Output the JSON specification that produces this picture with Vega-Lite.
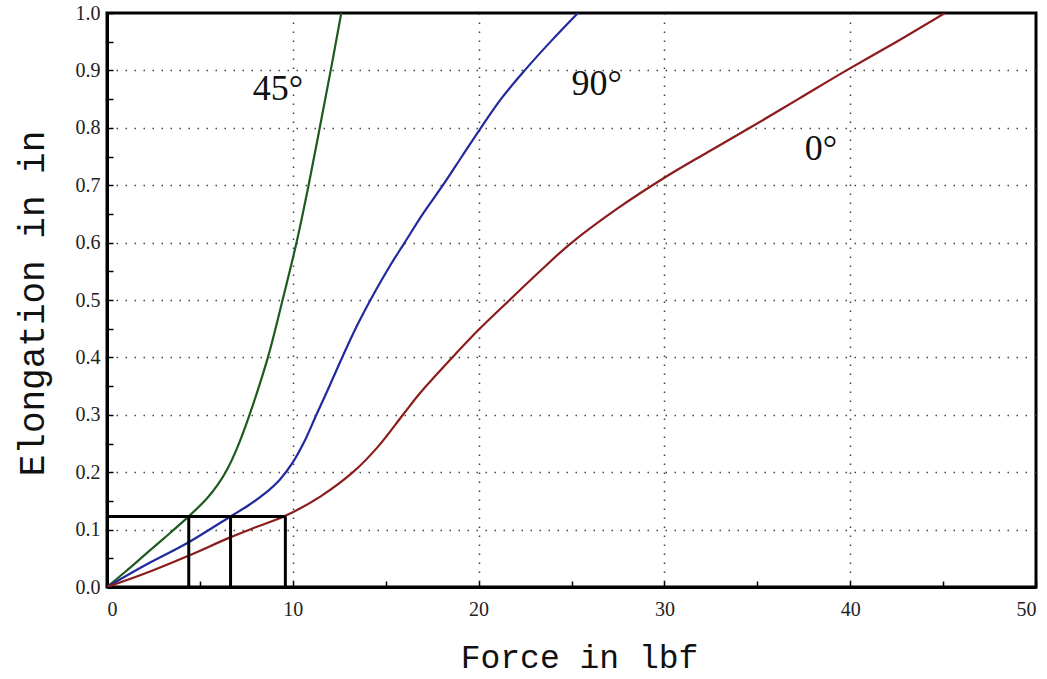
{
  "$schema": "https://vega.github.io/schema/vega-lite/v6.json",
  "width": 929,
  "height": 574,
  "autosize": {"type": "none"},
  "padding": {"left": 107, "top": 13, "right": 11, "bottom": 92},
  "background": "white",
  "config": {
    "view": {"stroke": "black", "strokeWidth": 3}
  },
  "datasets": {
    "curves": [
      {"angle": "45°", "F": 0, "E": 0},
      {"angle": "45°", "F": 1, "E": 0.027},
      {"angle": "45°", "F": 2, "E": 0.055},
      {"angle": "45°", "F": 3, "E": 0.083},
      {"angle": "45°", "F": 4.4, "E": 0.123},
      {"angle": "45°", "F": 5.4, "E": 0.155},
      {"angle": "45°", "F": 6.0, "E": 0.18},
      {"angle": "45°", "F": 6.5, "E": 0.207},
      {"angle": "45°", "F": 7.0, "E": 0.242},
      {"angle": "45°", "F": 7.67, "E": 0.3},
      {"angle": "45°", "F": 8.66, "E": 0.4},
      {"angle": "45°", "F": 9.45, "E": 0.5},
      {"angle": "45°", "F": 10.2, "E": 0.6},
      {"angle": "45°", "F": 10.85, "E": 0.7},
      {"angle": "45°", "F": 11.45, "E": 0.8},
      {"angle": "45°", "F": 12.04, "E": 0.9},
      {"angle": "45°", "F": 12.61, "E": 1.0},
      {"angle": "90°", "F": 0, "E": 0},
      {"angle": "90°", "F": 2, "E": 0.037},
      {"angle": "90°", "F": 4.35, "E": 0.077},
      {"angle": "90°", "F": 6.6, "E": 0.122},
      {"angle": "90°", "F": 7.6, "E": 0.142},
      {"angle": "90°", "F": 8.5, "E": 0.163},
      {"angle": "90°", "F": 9.3, "E": 0.187},
      {"angle": "90°", "F": 10.0, "E": 0.217},
      {"angle": "90°", "F": 10.6, "E": 0.252},
      {"angle": "90°", "F": 11.27, "E": 0.3},
      {"angle": "90°", "F": 12.0, "E": 0.352},
      {"angle": "90°", "F": 12.7, "E": 0.403},
      {"angle": "90°", "F": 13.5, "E": 0.458},
      {"angle": "90°", "F": 14.4, "E": 0.513},
      {"angle": "90°", "F": 15.2, "E": 0.558},
      {"angle": "90°", "F": 16.02, "E": 0.6},
      {"angle": "90°", "F": 17.0, "E": 0.65},
      {"angle": "90°", "F": 18.08, "E": 0.7},
      {"angle": "90°", "F": 19.1, "E": 0.75},
      {"angle": "90°", "F": 20.06, "E": 0.797},
      {"angle": "90°", "F": 21.2, "E": 0.85},
      {"angle": "90°", "F": 22.48, "E": 0.9},
      {"angle": "90°", "F": 23.9, "E": 0.951},
      {"angle": "90°", "F": 25.35, "E": 1.0},
      {"angle": "0°", "F": 0, "E": 0},
      {"angle": "0°", "F": 2, "E": 0.023},
      {"angle": "0°", "F": 4.35, "E": 0.054},
      {"angle": "0°", "F": 6.6, "E": 0.086},
      {"angle": "0°", "F": 8, "E": 0.104},
      {"angle": "0°", "F": 9.6, "E": 0.124},
      {"angle": "0°", "F": 11.5, "E": 0.158},
      {"angle": "0°", "F": 13.24, "E": 0.2},
      {"angle": "0°", "F": 14.6, "E": 0.245},
      {"angle": "0°", "F": 15.93, "E": 0.3},
      {"angle": "0°", "F": 16.83, "E": 0.337},
      {"angle": "0°", "F": 18.62, "E": 0.401},
      {"angle": "0°", "F": 20, "E": 0.448},
      {"angle": "0°", "F": 21.67, "E": 0.5},
      {"angle": "0°", "F": 23.3, "E": 0.55},
      {"angle": "0°", "F": 24.9, "E": 0.597},
      {"angle": "0°", "F": 27.5, "E": 0.66},
      {"angle": "0°", "F": 30.0, "E": 0.713},
      {"angle": "0°", "F": 32.3, "E": 0.757},
      {"angle": "0°", "F": 34.6, "E": 0.8},
      {"angle": "0°", "F": 37.2, "E": 0.85},
      {"angle": "0°", "F": 39.8, "E": 0.9},
      {"angle": "0°", "F": 42.5, "E": 0.95},
      {"angle": "0°", "F": 45.1, "E": 1.0}
    ],
    "guides": [
      {"F": 0, "F2": 9.6, "E": 0.123, "E2": 0.123},
      {"F": 4.4, "F2": 4.4, "E": 0, "E2": 0.123},
      {"F": 6.65, "F2": 6.65, "E": 0, "E2": 0.123},
      {"F": 9.6, "F2": 9.6, "E": 0, "E2": 0.123}
    ],
    "labels": [
      {"text": "45°", "F": 7.85, "E": 0.848},
      {"text": "90°", "F": 25.0, "E": 0.857},
      {"text": "0°", "F": 37.56, "E": 0.744}
    ]
  },
  "encoding": {
    "x": {
      "field": "F",
      "type": "quantitative",
      "scale": {"domain": [0, 50], "nice": false},
      "axis": {
        "values": [0, 5, 10, 15, 20, 25, 30, 35, 40, 45, 50],
        "format": "d",
        "labelExpr": "datum.value % 10 === 0 ? datum.label : ''",
        "labelFont": "Liberation Serif",
        "labelFontSize": 20,
        "labelColor": "#222222",
        "labelPadding": 18,
        "domainColor": "black",
        "domainWidth": 3,
        "tickColor": "black",
        "tickWidth": 1.5,
        "tickSize": -6,
        "gridColor": "#444444",
        "gridWidth": 1.5,
        "gridDash": [1.5, 7.5],
        "gridOpacity": {"condition": {"test": "datum.value % 10 !== 0 || datum.value === 0 || datum.value === 50", "value": 0}, "value": 1},
        "title": "Force in lbf",
        "titleFont": "Liberation Mono",
        "titleFontWeight": "normal",
        "titleColor": "#111111",
        "titleFontSize": 33,
        "titleX": 472,
        "titleY": 80,
        "titleBaseline": "alphabetic",
        "titleAlign": "center"
      }
    },
    "y": {
      "field": "E",
      "type": "quantitative",
      "scale": {"domain": [0, 1], "nice": false},
      "axis": {
        "values": [0, 0.05, 0.1, 0.15, 0.2, 0.25, 0.3, 0.35, 0.4, 0.45, 0.5, 0.55, 0.6, 0.65, 0.7, 0.75, 0.8, 0.85, 0.9, 0.95, 1.0],
        "format": ".1f",
        "labelExpr": "round(datum.value * 20) % 2 === 0 ? datum.label : ''",
        "labelFont": "Liberation Serif",
        "labelFontSize": 20,
        "labelColor": "#222222",
        "labelPadding": 13,
        "domainColor": "black",
        "domainWidth": 3,
        "tickColor": "black",
        "tickWidth": 1.5,
        "tickSize": -6,
        "gridColor": "#444444",
        "gridWidth": 1.5,
        "gridDash": [1.5, 7.5],
        "gridOpacity": {"condition": {"test": "round(datum.value * 20) % 2 === 1 || datum.value === 0 || datum.value === 1", "value": 0}, "value": 1},
        "title": "Elongation in in",
        "titleFont": "Liberation Mono",
        "titleFontWeight": "normal",
        "titleColor": "#111111",
        "titleFontSize": 36,
        "titleAngle": -90,
        "titleX": -64,
        "titleY": 290,
        "titleBaseline": "alphabetic",
        "titleAlign": "center"
      }
    }
  },
  "layer": [
    {
      "data": {"name": "curves"},
      "mark": {"type": "line", "interpolate": "catmull-rom", "strokeWidth": 2.2, "clip": true},
      "encoding": {
        "color": {
          "field": "angle",
          "type": "nominal",
          "scale": {"domain": ["45°", "90°", "0°"], "range": ["#1f5a1f", "#1f2a9e", "#8c1c1c"]},
          "legend": null
        }
      }
    },
    {
      "data": {"name": "guides"},
      "mark": {"type": "rule", "color": "black", "strokeWidth": 3},
      "encoding": {
        "x2": {"field": "F2"},
        "y2": {"field": "E2"}
      }
    },
    {
      "data": {"name": "labels"},
      "mark": {"type": "text", "font": "Liberation Serif", "fontSize": 36, "align": "left", "baseline": "alphabetic", "color": "#111111"},
      "encoding": {
        "text": {"field": "text", "type": "nominal"}
      }
    }
  ]
}
